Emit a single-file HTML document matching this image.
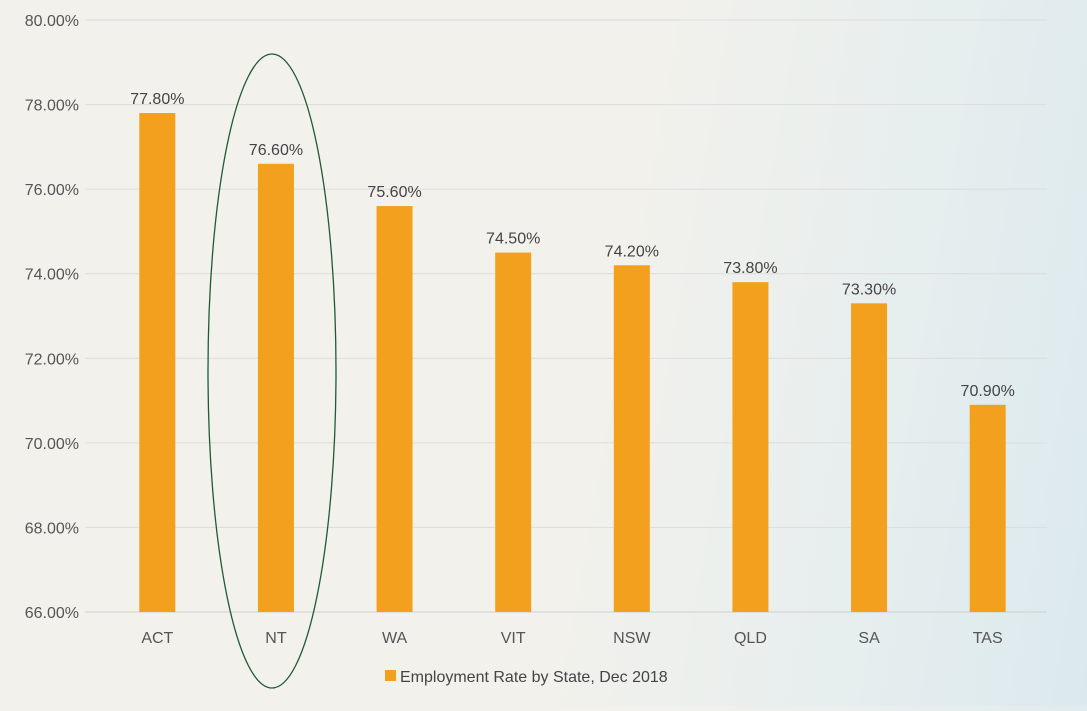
<!DOCTYPE html>
<html><head><meta charset="utf-8"><style>
html,body{margin:0;padding:0;}
body{width:1087px;height:706px;overflow:hidden;background:linear-gradient(100deg,#f3f1ec 0%,#f2f1ec 55%,#e6eeee 80%,#dbe9ee 100%);font-family:"Liberation Sans",sans-serif;}
svg text{font-family:"Liberation Sans",sans-serif;}
</style></head><body>
<svg id="chart" width="1087" height="706" xmlns="http://www.w3.org/2000/svg">
<g id="grid"></g>
<g id="yaxis"></g>
<g id="bars"></g>
<g id="xaxis"></g>
<ellipse cx="272" cy="371" rx="64" ry="317" fill="none" stroke="#1e5a36" stroke-width="1.3"/>
<g>
<rect x="385" y="670" width="11" height="11" fill="#f2a01e"/>
<text x="400" y="682" font-size="16" fill="#444">Employment Rate by State, Dec 2018</text>
</g>
</svg>
<script>
const categories=["ACT","NT","WA","VIT","NSW","QLD","SA","TAS"];
const values=[77.8,76.6,75.6,74.5,74.2,73.8,73.3,70.9];
const yTicks=[66,68,70,72,74,76,78,80];
const yMin=66,yMax=80,plotTop=20,plotBottom=612,plotLeft=98,plotRight=1047;
const y=v=>plotBottom-(v-yMin)/(yMax-yMin)*(plotBottom-plotTop);
const band=(plotRight-plotLeft)/categories.length;
const x=i=>plotLeft+band*(i+0.5);
const NS="http://www.w3.org/2000/svg";
const g=document.getElementById('grid'),ya=document.getElementById('yaxis'),b=document.getElementById('bars'),xa=document.getElementById('xaxis');
yTicks.forEach(t=>{
 const l=document.createElementNS(NS,'line');
 
 
 l.setAttribute('x1',85);l.setAttribute('x2',plotRight);l.setAttribute('y1',y(t));l.setAttribute('y2',y(t));
 l.setAttribute('stroke',t===yMin?'#cfcfcf':'#dcdcdc');l.setAttribute('stroke-width',1);
 g.appendChild(l);
 const tx=document.createElementNS(NS,'text');
 
 
 tx.setAttribute('x',79);tx.setAttribute('y',y(t)+6);tx.setAttribute('text-anchor','end');
 tx.setAttribute('font-size',16);tx.setAttribute('fill','#555');
 tx.textContent=t.toFixed(2)+'%';ya.appendChild(tx);
});
categories.forEach((c,i)=>{
 const r=document.createElementNS(NS,'rect');
 
 
 r.setAttribute('x',x(i)-18);r.setAttribute('width',36);
 r.setAttribute('y',y(values[i]));r.setAttribute('height',plotBottom-y(values[i]));
 r.setAttribute('fill','#f2a01e');b.appendChild(r);
 const v=document.createElementNS(NS,'text');
 
 
 v.setAttribute('x',x(i));v.setAttribute('y',y(values[i])-9);v.setAttribute('text-anchor','middle');
 v.setAttribute('font-size',16);v.setAttribute('fill','#444');
 v.textContent=values[i].toFixed(2)+'%';b.appendChild(v);
 const cl=document.createElementNS(NS,'text');
 
 
 cl.setAttribute('x',x(i));cl.setAttribute('y',643);cl.setAttribute('text-anchor','middle');
 cl.setAttribute('font-size',16);cl.setAttribute('fill','#555');
 cl.textContent=c;xa.appendChild(cl);
});
</script>
</body></html>
